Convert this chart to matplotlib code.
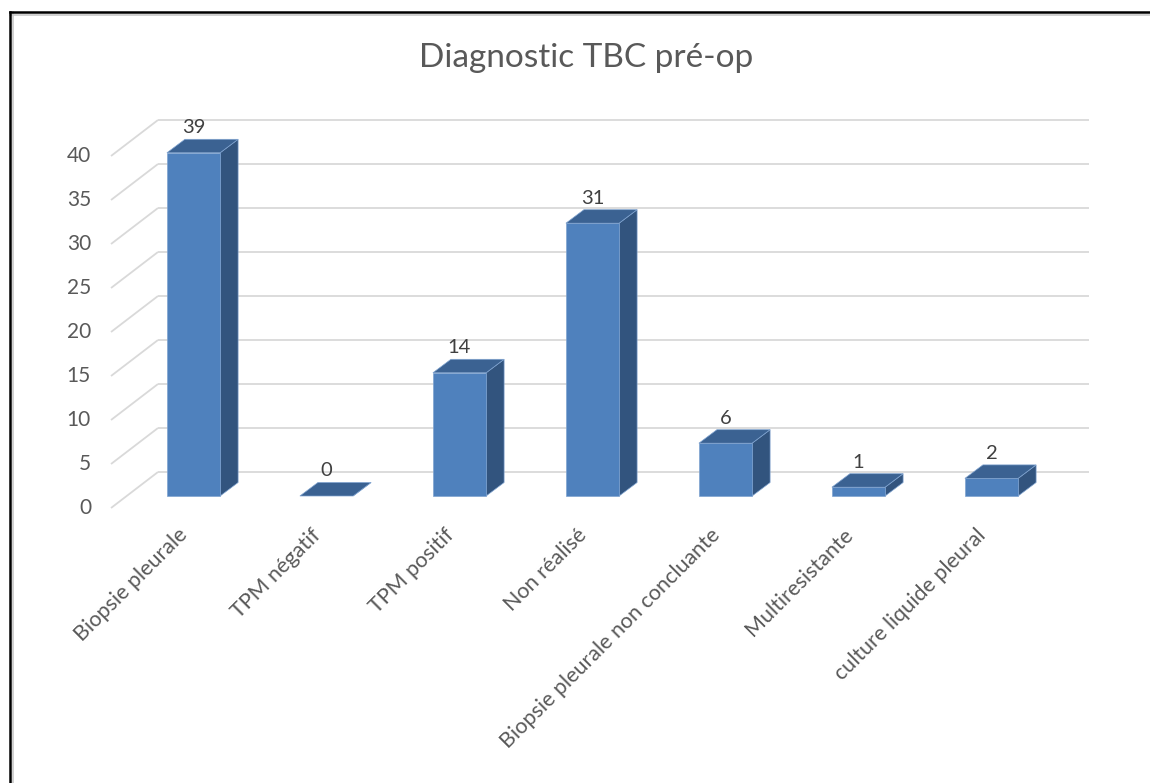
import matplotlib
matplotlib.use("Agg")
import matplotlib.pyplot as plt
from matplotlib.patches import Polygon, Rectangle
from matplotlib.lines import Line2D

# ---- data ----
categories = [
    "Biopsie pleurale",
    "TPM négatif",
    "TPM positif",
    "Non réalisé",
    "Biopsie pleurale non concluante",
    "Multiresistante",
    "culture liquide pleural",
]
counts = [39, 0, 14, 31, 6, 1, 2]
y_ticks = [0, 5, 10, 15, 20, 25, 30, 35, 40]
title_text = "Diagnostic TBC pré-op"

# ---- layout (pixels) ----
W, H, DPI = 1150, 783, 100
PX_PER_CAT = 133.0      # horizontal distance between categories
CAT0_PX = 193.5         # x of first category centre
PX_PER_UNIT = 8.8       # vertical pixels per count
BASE_PX = 496.0         # y (from top) of the bar baseline

plt.rcParams["font.family"] = ["Lato", "DejaVu Sans"]
TEXT = "#595959"
GRID = "#d9d9d9"
FRONT = "#4f81bd"
SIDE = "#32547e"
TOP = "#3b6292"
EDGE = "#7fa3d0"

fig = plt.figure(figsize=(W / DPI, H / DPI), dpi=DPI)
fig.patch.set_facecolor("white")
ax = fig.add_axes([0, 0, 1, 1])
ax.set_axis_off()
ax.set_xlim(-CAT0_PX / PX_PER_CAT, (W - CAT0_PX) / PX_PER_CAT)
ax.set_ylim((BASE_PX - H) / PX_PER_UNIT, BASE_PX / PX_PER_UNIT)

def dx(px):
    return px / PX_PER_CAT

def dy(px):
    return px / PX_PER_UNIT

def pt(px):
    return px * 72 / DPI

n = len(categories)
x_left, x_right = -0.5, n - 0.5

# depth offsets: back wall, front edge, bar depth
wall = (dx(31), dy(24))
front = (dx(-16), dy(-12))
depth = (dx(18), dy(13.5))

# ---- walls / gridlines ----
for t in y_ticks:
    ax.plot([x_left + wall[0], x_right + wall[0]], [t + wall[1]] * 2,
            color=GRID, lw=1.3, zorder=1, solid_capstyle="butt")
    ax.plot([x_left + front[0], x_left + wall[0]],
            [t + front[1], t + wall[1]],
            color=GRID, lw=1.3, zorder=1, solid_capstyle="butt")
    ax.text(x_left + front[0] - dx(20), t + front[1], f"{t}",
            ha="right", va="center", fontsize=15, color=TEXT)

# ---- 3D bars ----
bw = 0.4
for i, v in enumerate(counts):
    l, r = i - bw / 2, i + bw / 2
    side = Polygon([(r, 0), (r + depth[0], depth[1]),
                    (r + depth[0], v + depth[1]), (r, v)],
                   closed=True, facecolor=SIDE, edgecolor=EDGE, lw=0.5, zorder=3)
    top = Polygon([(l, v), (r, v), (r + depth[0], v + depth[1]),
                   (l + depth[0], v + depth[1])],
                  closed=True, facecolor=TOP, edgecolor=EDGE, lw=0.5, zorder=4)
    ax.add_patch(side)
    if v > 0:
        ax.add_patch(Rectangle((l, 0), bw, v, facecolor=FRONT,
                               edgecolor=EDGE, lw=0.5, zorder=4))
    ax.add_patch(top)
    ax.annotate(f"{v}", xy=(i, v), xytext=(0, pt(25)),
                textcoords="offset points", ha="center", va="center",
                fontsize=14.5, color="#404040", zorder=6)

# ---- category labels ----
for i, name in enumerate(categories):
    ax.annotate(name, xy=(i, 0), xytext=(pt(-9), pt(-36)),
                textcoords="offset points", rotation=45,
                rotation_mode="anchor", ha="right", va="center",
                fontsize=15.5, color=TEXT)

# ---- title ----
fig.text(586 / W, 1 - 58 / H, title_text, ha="center", va="center",
         fontsize=24, color=TEXT)

# ---- chart frame ----
fig.add_artist(Line2D([10 / W, 1], [1 - 14.5 / H] * 2, transform=fig.transFigure,
                      color="#c8c8c8", lw=1.2))
fig.add_artist(Line2D([12.5 / W] * 2, [0, 1 - 12 / H], transform=fig.transFigure,
                      color="#c8c8c8", lw=1.2))
fig.add_artist(Line2D([10 / W, 1], [1 - 12 / H] * 2, transform=fig.transFigure,
                      color="black", lw=1.8))
fig.add_artist(Line2D([10 / W] * 2, [0, 1 - 12 / H], transform=fig.transFigure,
                      color="black", lw=1.8))

fig.savefig("out.png", dpi=DPI)
